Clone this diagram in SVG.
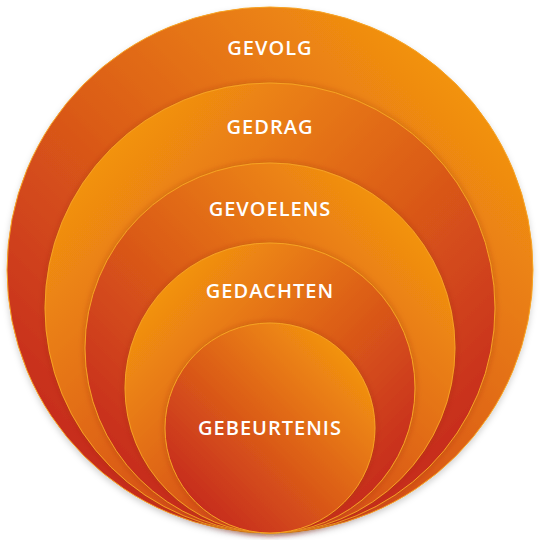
<svg xmlns="http://www.w3.org/2000/svg" width="540" height="540" viewBox="0 0 540 540">
<defs>
<linearGradient id="g" x1="0.85" y1="0.15" x2="0.15" y2="0.85">
<stop offset="0" stop-color="#f29210"/>
<stop offset="1" stop-color="#c72d1f"/>
</linearGradient>
<linearGradient id="g2" x1="0.15" y1="0.15" x2="0.85" y2="0.85">
<stop offset="0" stop-color="#f29210"/>
<stop offset="1" stop-color="#c72d1f"/>
</linearGradient>
<filter id="sh" x="-10%" y="-10%" width="120%" height="120%">
<feDropShadow dx="0" dy="0" stdDeviation="3" flood-color="#8a2a00" flood-opacity="0.35"/>
</filter>
<filter id="sh0" x="-10%" y="-10%" width="120%" height="120%">
<feDropShadow dx="0" dy="3" stdDeviation="3" flood-color="#000" flood-opacity="0.18"/>
</filter>
</defs>
<style>
.c{fill:url(#g);stroke:#f6a323;stroke-width:1}
.m{fill:url(#g2)}
.t{font-family:"Open Sans","Noto Sans",sans-serif;font-weight:600;font-size:20px;fill:#fff;text-anchor:middle;letter-spacing:1px}
</style>
<g id="gevolg"><circle class="c" cx="270" cy="270" r="263" filter="url(#sh0)"/><text class="t" x="270" y="55">GEVOLG</text></g>
<g id="gedrag"><circle class="c m" cx="270" cy="308" r="225" filter="url(#sh)"/><text class="t" x="270" y="134">GEDRAG</text></g>
<g id="gevoelens"><circle class="c" cx="270" cy="348" r="185" filter="url(#sh)"/><text class="t" x="270" y="216">GEVOELENS</text></g>
<g id="gedachten"><circle class="c m" cx="270" cy="388" r="145" filter="url(#sh)"/><text class="t" x="270" y="298">GEDACHTEN</text></g>
<g id="gebeurtenis"><circle class="c" cx="270" cy="428" r="105" filter="url(#sh)"/><text class="t" x="270" y="435">GEBEURTENIS</text></g>
<g id="connectors"/>
</svg>
